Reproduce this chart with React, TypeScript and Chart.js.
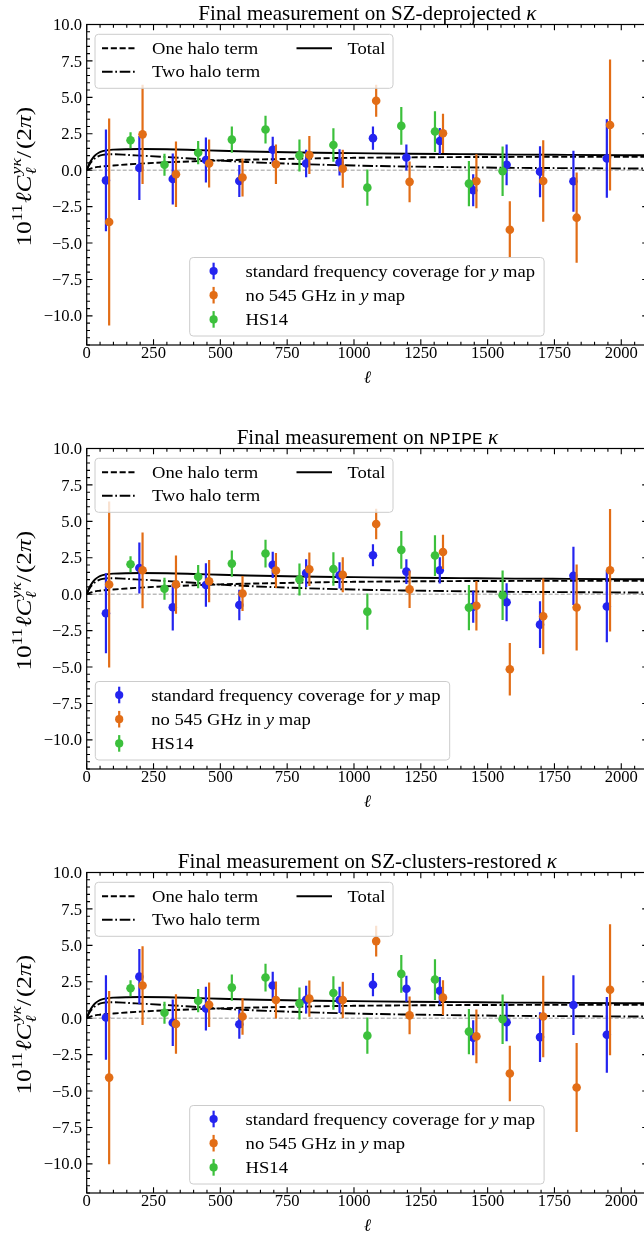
import React, { useEffect, useRef } from "react";
import { Chart, registerables } from "chart.js";
Chart.register(...registerables);

// ---------------- data ----------------
const ELL_STD = [72, 197, 322, 446, 571, 696, 821, 946, 1071, 1196, 1321, 1446, 1571, 1696, 1821, 1946];
const ELL_NO545 = [84, 209, 334, 458, 583, 708, 833, 958, 1083, 1208, 1333, 1458, 1583, 1708, 1833, 1958];
const ELL_HS14 = [164, 291, 417, 543, 669, 796, 923, 1050, 1177, 1303, 1430, 1556];

const HS14 = [2.05, 0.37, 1.2, 2.1, 2.79, 1.01, 1.73, -1.2, 3.04, 2.65, -0.92, -0.07];
const HS14_ERR = [0.55, 0.75, 0.8, 0.9, 0.95, 1.1, 1.15, 1.25, 1.3, 1.4, 1.55, 1.7];

// SZ-deprojected kappa
const STD_DEPROJ = [-0.7, 0.15, -0.6, 0.7, -0.74, 1.4, 0.46, 0.53, 2.2, 0.87, 2.0, -1.38, 0.37, -0.1, -0.76, 0.8];
const STD_DEPROJ_ERR = [3.5, 2.2, 1.75, 1.55, 1.1, 0.9, 0.95, 0.9, 0.8, 0.9, 0.9, 1.1, 1.4, 1.75, 2.1, 2.7];
const NO545_DEPROJ = [-3.56, 2.46, -0.28, 0.46, -0.5, 0.41, 1.04, 0.1, 4.77, -0.8, 2.53, -0.76, -4.09, -0.74, -3.26, 3.1];
const NO545_DEPROJ_ERR = [7.1, 3.4, 2.25, 1.65, 1.3, 1.35, 1.3, 1.3, 1.1, 1.4, 1.35, 1.85, 1.95, 2.8, 3.1, 4.5];

// NPIPE kappa
const STD_NPIPE = [-1.31, 1.8, -0.9, 0.63, -0.74, 2.01, 1.45, 1.29, 2.67, 1.55, 1.64, -0.86, -0.55, -2.09, 1.26, -0.85];
const STD_NPIPE_ERR = [2.75, 1.75, 1.6, 1.5, 1.05, 0.9, 0.95, 0.9, 0.75, 0.85, 0.9, 1.1, 1.3, 1.6, 2.0, 2.45];
const NO545_NPIPE = [0.66, 1.64, 0.66, 0.89, 0.05, 1.62, 1.71, 1.33, 4.82, 0.33, 2.9, -0.79, -5.15, -1.52, -0.91, 1.64];
const NO545_NPIPE_ERR = [5.7, 2.6, 2.0, 1.45, 1.2, 1.2, 1.15, 1.2, 1.05, 1.27, 1.18, 1.7, 1.8, 2.6, 2.95, 4.2];

// SZ-clusters-restored kappa
const STD_REST = [0.05, 2.85, -0.31, 0.66, -0.42, 2.24, 1.27, 1.25, 2.3, 2.02, 1.88, -1.34, -0.28, -1.3, 0.9, -1.14];
const STD_REST_ERR = [2.9, 1.9, 1.6, 1.5, 1.0, 0.95, 0.95, 0.9, 0.8, 0.9, 0.94, 1.2, 1.3, 1.7, 2.05, 2.6];
const NO545_REST = [-4.08, 2.24, -0.4, 0.92, 0.12, 1.25, 1.34, 1.25, 5.29, 0.19, 1.41, -1.25, -3.8, 0.12, -4.76, 1.95];
const NO545_REST_ERR = [5.95, 2.7, 2.05, 1.53, 1.25, 1.27, 1.24, 1.25, 1.05, 1.3, 1.2, 1.85, 1.9, 2.8, 3.05, 4.5];

// halo model curves
const ELL_MODEL = [0, 5, 10, 20, 30, 45, 60, 80, 100, 150, 200, 300, 400, 500, 600, 800, 1000, 1200, 1400, 1600, 1800, 2000, 2100];
const ONE_HALO = [0, 0.04, 0.08, 0.14, 0.19, 0.23, 0.26, 0.29, 0.32, 0.39, 0.45, 0.54, 0.61, 0.67, 0.72, 0.79, 0.85, 0.88, 0.9, 0.91, 0.91, 0.91, 0.91];
const TWO_HALO = [0, 0.2, 0.38, 0.62, 0.8, 0.97, 1.05, 1.09, 1.09, 1.05, 1.0, 0.9, 0.78, 0.66, 0.56, 0.42, 0.32, 0.25, 0.2, 0.16, 0.14, 0.12, 0.11];
const TOTAL = [0, 0.24, 0.46, 0.76, 0.99, 1.2, 1.31, 1.38, 1.41, 1.44, 1.45, 1.44, 1.39, 1.33, 1.28, 1.21, 1.17, 1.13, 1.1, 1.07, 1.05, 1.03, 1.02];

const X_MAJOR = [0, 250, 500, 750, 1000, 1250, 1500, 1750, 2000];
const Y_MAJOR = [-10, -7.5, -5, -2.5, 0, 2.5, 5, 7.5, 10];

// ---------------- style ----------------
const COLOR_STD = "#2424ef";
const COLOR_NO545 = "#e26d16";
const COLOR_HS14 = "#3cc03c";
const SERIF = '"Liberation Serif", "Times New Roman", serif';
const MONO = '"Liberation Mono", "DejaVu Sans Mono", monospace';
const FS = 16.6;
const YFS = 22;

const PANEL_H = 424;
const CANVAS_W = 660;
const PLOT_LEFT = 86.7;
const PLOT_RIGHT = 648;
const PLOT_TOP = 24.5;
const PLOT_BOTTOM = 345;

const DASH = [6.1, 2.7];
const DASHDOT = [10.6, 2.7, 1.7, 2.7];

type Part = { t: string; f: string; dy?: number; stack?: boolean; gap?: number };
const rf = (s: number) => `${s}px ${SERIF}`;
const itf = (s: number) => `italic ${s}px ${SERIF}`;

function layoutParts(ctx: CanvasRenderingContext2D, parts: Part[], sx: number) {
  let x = 0, prevStart = 0, prevW = 0;
  const pos: number[] = [];
  for (const p of parts) {
    ctx.font = p.f;
    const w = ctx.measureText(p.t).width * sx + (p.gap || 0);
    if (p.stack) {
      pos.push(prevStart);
      const adv = Math.max(prevW, w);
      x = prevStart + adv;
      prevW = adv;
    } else {
      pos.push(x);
      prevStart = x;
      prevW = w;
      x += w;
    }
  }
  return { pos, width: x };
}

function drawParts(ctx: CanvasRenderingContext2D, parts: Part[], x: number, y: number, align: string, sx = 1) {
  const { pos, width } = layoutParts(ctx, parts, sx);
  const x0 = align === "center" ? x - width / 2 : align === "right" ? x - width : x;
  parts.forEach((p, i) => {
    ctx.save();
    ctx.font = p.f;
    ctx.textAlign = "left";
    ctx.textBaseline = "alphabetic";
    ctx.translate(x0 + pos[i], y + (p.dy || 0));
    ctx.scale(sx, 1);
    ctx.fillText(p.t, 0, 0);
    ctx.restore();
  });
}

function errSegments(xs: number[], ys: number[], es: number[]) {
  const out: any[] = [];
  xs.forEach((x, i) => {
    out.push({ x, y: ys[i] - es[i] }, { x, y: ys[i] + es[i] }, { x, y: null });
  });
  return out;
}
const pts = (xs: number[], ys: number[]) => xs.map((x, i) => ({ x, y: ys[i] }));

function roundRect(ctx: CanvasRenderingContext2D, x: number, y: number, w: number, h: number, r: number) {
  ctx.beginPath();
  ctx.moveTo(x + r, y);
  ctx.lineTo(x + w - r, y);
  ctx.arcTo(x + w, y, x + w, y + r, r);
  ctx.lineTo(x + w, y + h - r);
  ctx.arcTo(x + w, y + h, x + w - r, y + h, r);
  ctx.lineTo(x + r, y + h);
  ctx.arcTo(x, y + h, x, y + h - r, r);
  ctx.lineTo(x, y + r);
  ctx.arcTo(x, y, x + r, y, r);
  ctx.closePath();
}

const fmtY = (v: number) => (v < 0 ? "\u2212" : "") + Math.abs(v).toFixed(1);

type Leg2 = { x: number; y: number; w: number; h: number; mx: number; tx: number; rows: number[] };
type PanelCfg = {
  title: Part[];
  std: number[];
  stdErr: number[];
  no545: number[];
  no545Err: number[];
  leg2: Leg2;
};

const PANELS: PanelCfg[] = [
  {
    title: [
      { t: "Final measurement on SZ-deprojected ", f: rf(19.9) },
      { t: "\u03BA", f: itf(19.9) },
    ],
    std: STD_DEPROJ, stdErr: STD_DEPROJ_ERR, no545: NO545_DEPROJ, no545Err: NO545_DEPROJ_ERR,
    leg2: { x: 189.7, y: 257.5, w: 354.4, h: 78.5, mx: 213.6, tx: 245.6, rows: [271, 295.2, 319.4] },
  },
  {
    title: [
      { t: "Final measurement on ", f: rf(19.9) },
      { t: "NPIPE", f: `${16.8}px ${MONO}` },
      { t: " ", f: rf(19.9) },
      { t: "\u03BA", f: itf(19.9) },
    ],
    std: STD_NPIPE, stdErr: STD_NPIPE_ERR, no545: NO545_NPIPE, no545Err: NO545_NPIPE_ERR,
    leg2: { x: 95.3, y: 257.5, w: 354.4, h: 78.5, mx: 119.2, tx: 151.2, rows: [271, 295.2, 319.4] },
  },
  {
    title: [
      { t: "Final measurement on SZ-clusters-restored ", f: rf(19.9) },
      { t: "\u03BA", f: itf(19.9) },
    ],
    std: STD_REST, stdErr: STD_REST_ERR, no545: NO545_REST, no545Err: NO545_REST_ERR,
    leg2: { x: 189.7, y: 257.5, w: 354.4, h: 78.5, mx: 213.6, tx: 245.6, rows: [271, 295.2, 319.4] },
  },
];

const LEG2_TEXT: Part[][] = [
  [
    { t: "standard frequency coverage for ", f: rf(FS) },
    { t: "y", f: itf(FS) },
    { t: " map", f: rf(FS) },
  ],
  [
    { t: "no 545 GHz in ", f: rf(FS) },
    { t: "y", f: itf(FS) },
    { t: " map", f: rf(FS) },
  ],
  [{ t: "HS14", f: rf(FS) }],
];
const LEG2_COLORS = [COLOR_STD, COLOR_NO545, COLOR_HS14];

const YLABEL: Part[] = [
  { t: "10", f: rf(YFS) },
  { t: "11", f: rf(YFS * 0.7), dy: -9, gap: 1.2 },
  { t: "\u2113", f: itf(YFS) },
  { t: "C", f: itf(YFS), gap: 1.2 },
  { t: "y\u03BA", f: itf(YFS * 0.7), dy: -9.5 },
  { t: "\u2113", f: itf(YFS * 0.7), dy: 5.5, stack: true, gap: 2.5 },
  { t: "/", f: rf(YFS), gap: 2 },
  { t: "(2", f: rf(YFS) },
  { t: "\u03C0", f: itf(YFS) },
  { t: ")", f: rf(YFS) },
];

function makePlugin(cfg: PanelCfg) {
  return {
    id: "mplDecor",
    afterDraw(chart: any) {
      const ctx: CanvasRenderingContext2D = chart.ctx;
      const { left, right, top, bottom } = chart.chartArea;
      const xs = chart.scales.x;
      const ys = chart.scales.y;
      ctx.save();
      ctx.fillStyle = "#000";
      ctx.strokeStyle = "#000";

      // ---- legend 1 (model lines) ----
      ctx.save();
      roundRect(ctx, 95, 34.3, 298, 54, 3.5);
      ctx.fillStyle = "rgba(255,255,255,0.8)";
      ctx.fill();
      ctx.strokeStyle = "rgba(204,204,204,1)";
      ctx.lineWidth = 1;
      ctx.stroke();
      const line = (x1: number, x2: number, y: number, dash: number[]) => {
        ctx.beginPath();
        ctx.setLineDash(dash);
        ctx.strokeStyle = "#000";
        ctx.lineWidth = 1.9;
        ctx.moveTo(x1, y);
        ctx.lineTo(x2, y);
        ctx.stroke();
        ctx.setLineDash([]);
      };
      line(102, 136, 48.3, DASH);
      line(102, 136, 71.7, DASHDOT);
      line(296.5, 332, 48.3, []);
      ctx.fillStyle = "#000";
      drawParts(ctx, [{ t: "One halo term", f: rf(FS) }], 152, 53.8, "left", 1.12);
      drawParts(ctx, [{ t: "Two halo term", f: rf(FS) }], 152, 77.2, "left", 1.12);
      drawParts(ctx, [{ t: "Total", f: rf(FS) }], 347.4, 53.8, "left", 1.12);
      ctx.restore();

      // ---- legend 2 (data) ----
      const L = cfg.leg2;
      ctx.save();
      roundRect(ctx, L.x, L.y, L.w, L.h, 3.5);
      ctx.fillStyle = "rgba(255,255,255,0.8)";
      ctx.fill();
      ctx.strokeStyle = "rgba(204,204,204,1)";
      ctx.lineWidth = 1;
      ctx.stroke();
      L.rows.forEach((ry, i) => {
        ctx.strokeStyle = LEG2_COLORS[i];
        ctx.fillStyle = LEG2_COLORS[i];
        ctx.lineWidth = 2.2;
        ctx.beginPath();
        ctx.moveTo(L.mx, ry - 8.3);
        ctx.lineTo(L.mx, ry + 8.3);
        ctx.stroke();
        ctx.beginPath();
        ctx.arc(L.mx, ry, 4.1, 0, Math.PI * 2);
        ctx.fill();
        ctx.fillStyle = "#000";
        drawParts(ctx, LEG2_TEXT[i], L.tx, ry + 5.5, "left", 1.12);
      });
      ctx.restore();

      // ---- spines ----
      ctx.lineWidth = 1.2;
      ctx.strokeStyle = "#000";
      ctx.strokeRect(left, top, right - left, bottom - top);

      // ---- ticks (inward, all sides) ----
      ctx.lineWidth = 1.1;
      ctx.beginPath();
      for (let v = 0; v <= 2100; v += 50) {
        const px = xs.getPixelForValue(v);
        const len = v % 250 === 0 ? 5.8 : 3.3;
        ctx.moveTo(px, bottom);
        ctx.lineTo(px, bottom - len);
        ctx.moveTo(px, top);
        ctx.lineTo(px, top + len);
      }
      for (let k = -24; k <= 20; k++) {
        const py = ys.getPixelForValue(k / 2);
        const len = k % 5 === 0 ? 5.8 : 3.3;
        ctx.moveTo(left, py);
        ctx.lineTo(left + len, py);
        ctx.moveTo(right, py);
        ctx.lineTo(right - len, py);
      }
      ctx.stroke();

      // ---- tick labels ----
      ctx.fillStyle = "#000";
      ctx.font = rf(FS);
      ctx.textBaseline = "alphabetic";
      ctx.textAlign = "center";
      X_MAJOR.forEach((v) => {
        ctx.fillText(String(v), xs.getPixelForValue(v), bottom + 13.3);
      });
      ctx.textAlign = "right";
      Y_MAJOR.forEach((v) => {
        ctx.fillText(fmtY(v), left - 4.6, ys.getPixelForValue(v) + 5.6);
      });

      // ---- axis labels ----
      drawParts(ctx, [{ t: "\u2113", f: itf(FS + 1) }], (left + right) / 2, bottom + 37.5, "center");
      ctx.save();
      ctx.translate(30.5, (top + bottom) / 2 - 8);
      ctx.rotate(-Math.PI / 2);
      drawParts(ctx, YLABEL, 0, 0, "center", 1.15);
      ctx.restore();

      // ---- title ----
      drawParts(ctx, cfg.title, (left + right) / 2, 19.5, "center", 1.06);
      ctx.restore();
    },
  };
}

function Panel({ cfg, top }: { cfg: PanelCfg; top: number }) {
  const ref = useRef<HTMLCanvasElement | null>(null);
  useEffect(() => {
    if (!ref.current) return;
    const lineDs = (label: string, ys: number[], dash: number[], order: number) => ({
      label,
      data: pts(ELL_MODEL, ys),
      showLine: true,
      borderColor: "#000",
      borderWidth: 1.9,
      borderDash: dash,
      pointRadius: 0,
      cubicInterpolationMode: "monotone",
      order,
    });
    const errDs = (label: string, xs: number[], ys: number[], es: number[], color: string, order: number) => ({
      label,
      data: errSegments(xs, ys, es),
      showLine: true,
      spanGaps: false,
      borderColor: color,
      borderWidth: 2.2,
      pointRadius: 0,
      order,
    });
    const ptDs = (label: string, xs: number[], ys: number[], color: string, order: number) => ({
      label,
      data: pts(xs, ys),
      showLine: false,
      backgroundColor: color,
      borderColor: color,
      borderWidth: 0,
      pointRadius: 4.3,
      pointHoverRadius: 4.3,
      order,
    });
    const chart = new Chart(ref.current, {
      type: "scatter",
      data: {
        datasets: [
          ptDs("HS14", ELL_HS14, HS14, COLOR_HS14, 0),
          errDs("HS14 err", ELL_HS14, HS14, HS14_ERR, COLOR_HS14, 1),
          ptDs("no 545 GHz in y map", ELL_NO545, cfg.no545, COLOR_NO545, 2),
          errDs("no 545 err", ELL_NO545, cfg.no545, cfg.no545Err, COLOR_NO545, 3),
          ptDs("standard frequency coverage for y map", ELL_STD, cfg.std, COLOR_STD, 4),
          errDs("standard err", ELL_STD, cfg.std, cfg.stdErr, COLOR_STD, 5),
          lineDs("Total", TOTAL, [], 6),
          lineDs("Two halo term", TWO_HALO, DASHDOT, 7),
          lineDs("One halo term", ONE_HALO, DASH, 8),
          {
            label: "zero",
            data: [{ x: 0, y: 0 }, { x: 2100, y: 0 }],
            showLine: true,
            borderColor: "#9a9a9a",
            borderWidth: 1,
            borderDash: [4, 2],
            pointRadius: 0,
            order: 9,
          },
        ] as any,
      },
      options: {
        responsive: false,
        devicePixelRatio: 1,
        animation: false,
        events: [],
        layout: {
          padding: {
            left: PLOT_LEFT,
            top: PLOT_TOP,
            right: CANVAS_W - PLOT_RIGHT,
            bottom: PANEL_H - PLOT_BOTTOM,
          },
        },
        plugins: { legend: { display: false }, tooltip: { enabled: false }, title: { display: false } },
        scales: {
          x: { type: "linear", min: 0, max: 2100, display: false },
          y: { type: "linear", min: -12, max: 10, display: false },
        },
      } as any,
      plugins: [makePlugin(cfg)],
    });
    return () => chart.destroy();
  }, [cfg]);
  return (
    <canvas
      ref={ref}
      width={CANVAS_W}
      height={PANEL_H}
      style={{ position: "absolute", left: 0, top, width: CANVAS_W, height: PANEL_H }}
    />
  );
}

export default function App() {
  return (
    <div
      style={{
        position: "absolute",
        left: 0,
        top: 0,
        width: 644,
        height: 1234,
        overflow: "hidden",
        background: "#fff",
      }}
    >
      {PANELS.map((p, i) => (
        <Panel key={i} cfg={p} top={i * PANEL_H} />
      ))}
    </div>
  );
}
